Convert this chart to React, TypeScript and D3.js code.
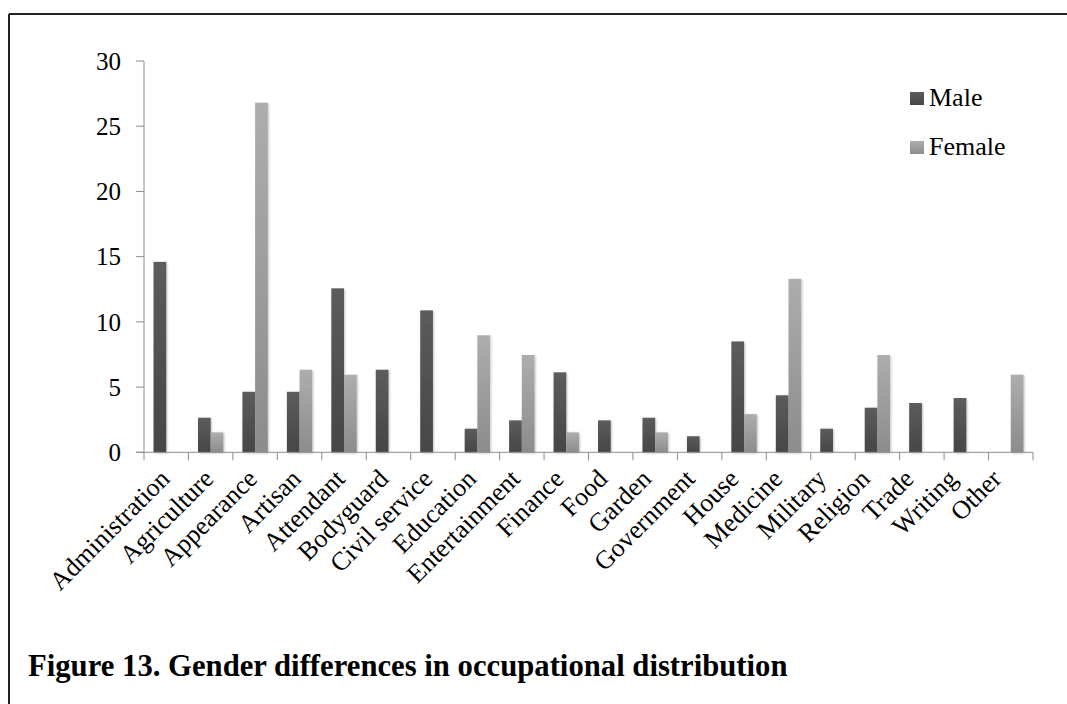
import React from "react";
import * as d3 from "d3";

const categories = [
  "Administration", "Agriculture", "Appearance", "Artisan", "Attendant",
  "Bodyguard", "Civil service", "Education", "Entertainment", "Finance",
  "Food", "Garden", "Government", "House", "Medicine", "Military",
  "Religion", "Trade", "Writing", "Other",
];
const maleValues = [
  14.6, 2.65, 4.64, 4.64, 12.57, 6.33, 10.88, 1.81, 2.45, 6.13,
  2.45, 2.65, 1.23, 8.5, 4.37, 1.81, 3.42, 3.78, 4.16, 0,
];
const femaleValues = [
  0, 1.53, 26.8, 6.33, 5.95, 0, 0, 8.97, 7.46, 1.53,
  0, 1.53, 0, 2.93, 13.3, 0, 7.46, 0, 0, 5.95,
];
const seriesNames = ["Male", "Female"];
const yTicks = [0, 5, 10, 15, 20, 25, 30];
const caption = "Figure 13. Gender differences in occupational distribution";

const W = 1067;
const H = 704;
const plotLeft = 144;
const plotRight = 1033;
const plotTop = 61;
const plotBottom = 452.3;
const FONT = "'Liberation Serif', 'Times New Roman', serif";

export default function App() {
  const x = d3.scaleBand<string>().domain(categories).range([plotLeft, plotRight]).paddingInner(0).paddingOuter(0);
  const y = d3.scaleLinear().domain([0, 30]).range([plotBottom, plotTop]);
  const step = x.bandwidth();
  const barW = step / 3.5;
  const groupOffset = (step - 2 * barW) / 2;
  const series = [maleValues, femaleValues];
  const fills = ["url(#gMale)", "url(#gFemale)"];
  // label positions: slightly compressed spacing relative to the bands, as in the source rendering
  const labelX = d3.scaleLinear().domain([0, categories.length - 1]).range([plotLeft + step / 2 + 1, plotRight - step / 2 - 12]);

  return (
    <svg width={W} height={H} style={{ position: "absolute", left: 0, top: 0, background: "#fff" }}>
      <defs>
        <linearGradient id="gMale" x1="0" y1="0" x2="0" y2="1">
          <stop offset="0" stopColor="#5c5c5c" />
          <stop offset="1" stopColor="#464646" />
        </linearGradient>
        <linearGradient id="gFemale" x1="0" y1="0" x2="0" y2="1">
          <stop offset="0" stopColor="#adadad" />
          <stop offset="1" stopColor="#8c8c8c" />
        </linearGradient>
        <filter id="shadow" x="-30%" y="-5%" width="160%" height="110%">
          <feGaussianBlur in="SourceAlpha" stdDeviation="1.2" />
          <feOffset dx="0.5" dy="0.5" result="b" />
          <feComponentTransfer><feFuncA type="linear" slope="0.25" /></feComponentTransfer>
          <feMerge><feMergeNode /><feMergeNode in="SourceGraphic" /></feMerge>
        </filter>
      </defs>
      <rect x={0} y={0} width={W} height={H} fill="#fff" />
      {/* frame */}
      <line x1={9} y1={14} x2={W} y2={14} stroke="#222" strokeWidth={2} />
      <line x1={9} y1={14} x2={9} y2={H} stroke="#222" strokeWidth={2} />

      {/* bars */}
      {categories.map((c, i) =>
        series.map((vals, s) =>
          vals[i] > 0 ? (
            <rect
              key={c + s}
              x={(x(c) as number) + groupOffset + s * barW}
              y={y(vals[i])}
              width={barW}
              height={y(0) - y(vals[i])}
              fill={fills[s]}
              filter="url(#shadow)"
            />
          ) : null
        )
      )}

      {/* y axis */}
      <line x1={plotLeft} y1={plotTop} x2={plotLeft} y2={plotBottom} stroke="#8c8c8c" strokeWidth={1} />
      {yTicks.map((t) => (
        <g key={t}>
          <line x1={plotLeft - 8} x2={plotLeft} y1={y(t)} y2={y(t)} stroke="#8c8c8c" strokeWidth={1} />
          <text x={121} y={y(t)} dy="0.35em" textAnchor="end" fontFamily={FONT} fontSize={25} fill="#000">
            {t}
          </text>
        </g>
      ))}

      {/* x axis */}
      <line x1={plotLeft - 8} x2={plotRight} y1={plotBottom} y2={plotBottom} stroke="#8c8c8c" strokeWidth={1} />
      {categories.concat(["__end"]).map((c, i) => {
        const xx = i < categories.length ? (x(c) as number) : plotRight;
        return <line key={"t" + i} x1={xx} x2={xx} y1={plotBottom} y2={plotBottom + 8} stroke="#8c8c8c" strokeWidth={1} />;
      })}
      {categories.map((c, i) => {
        const cx = labelX(i) + 4;
        const cy = plotBottom + 28;
        return (
          <text
            key={"l" + c}
            transform={`translate(${cx},${cy}) rotate(-45)`}
            textAnchor="end"
            fontFamily={FONT}
            fontSize={26}
            fill="#000"
          >
            {c}
          </text>
        );
      })}

      {/* legend */}
      {seriesNames.map((n, i) => (
        <g key={n} transform={`translate(910,${92 + i * 49})`}>
          <rect x={0} y={0} width={14} height={13} fill={fills[i]} />
          <text x={19} y={14} fontFamily={FONT} fontSize={26} fill="#000">
            {n}
          </text>
        </g>
      ))}

      {/* caption */}
      <text x={28} y={676} fontFamily={FONT} fontSize={30.7} fontWeight="bold" fill="#000">
        {caption}
      </text>
    </svg>
  );
}
